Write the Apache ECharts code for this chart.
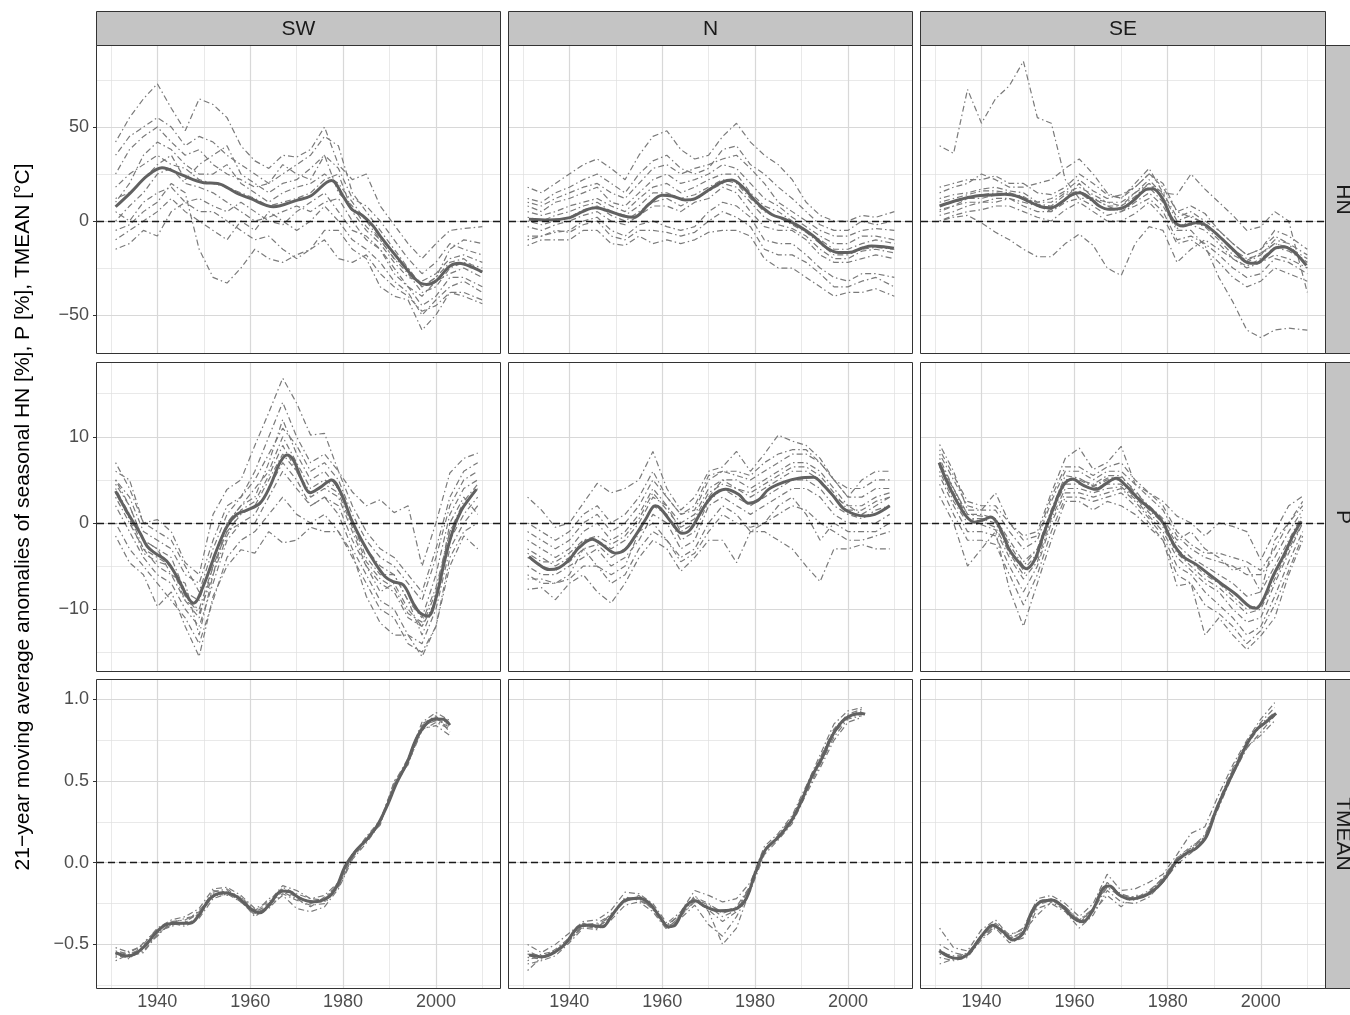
<!DOCTYPE html>
<html><head><meta charset="utf-8">
<script src="https://cdn.jsdelivr.net/npm/echarts@6/dist/echarts.min.js"></script>
<style>html,body{margin:0;padding:0;background:#fff}#c{width:1350px;height:1015px}</style>
</head><body><div id="c"></div>
<script>
// ---------------- DATA ----------------
const regions = ['SW', 'N', 'SE'];
const variables = ['HN', 'P', 'TMEAN'];
const yTitle = '21\u2212year moving average anomalies of seasonal HN [%], P [%], TMEAN [\u00B0C]';

const yearsHN = [1931,1934,1937,1940,1943,1946,1949,1952,1955,1958,1961,1964,1967,1970,1973,1976,1979,1982,1985,1988,1991,1994,1997,2000,2003,2006,2010];
const yearsP  = [1931,1934,1937,1940,1943,1946,1949,1952,1955,1958,1961,1964,1967,1970,1973,1976,1979,1982,1985,1988,1991,1994,1997,2000,2003,2006,2009];
const yearsT  = [1931,1934,1937,1940,1943,1946,1949,1952,1955,1958,1961,1964,1967,1970,1973,1976,1979,1982,1985,1988,1991,1994,1997,2000,2003];

const xTicks = [1940, 1960, 1980, 2000];
const xMinorTicks = [1930, 1950, 1970, 1990, 2010];
const yTicksHN = [-50, 0, 50];
const yMinorHN = [-25, 25, 75];
const yTicksP = [-10, 0, 10];
const yMinorP = [-15, -5, 5, 15];
const yTicksT = [-0.5, 0, 0.5, 1];
const yMinorT = [-0.75, -0.25, 0.25, 0.75];
const xLimits = [1927, 2013.8];
const yLimitsHN = [-70.2, 93.1];
const yLimitsP = [-17.17, 18.56];
const yLimitsT = [-0.767, 1.119];

// station series (dash-dot)
const stations_SW_HN = [
  [42,55,65,73,60,48,65,62,55,40,32,28,35,34,38,50,30,22,25,8,-2,-12,-20,-12,-5,-4,-3],
  [35,45,50,55,50,40,45,42,35,30,25,20,25,30,35,45,40,15,5,-5,-15,-25,-35,-30,-15,-10,-12],
  [10,20,35,42,38,30,25,25,30,20,15,10,15,18,20,25,20,10,0,-10,-20,-28,-38,-35,-25,-22,-25],
  [5,0,10,15,18,10,12,8,5,10,5,0,-2,5,10,15,5,-5,-8,-15,-28,-35,-45,-40,-30,-30,-35],
  [-5,-2,5,10,20,15,-15,-30,-33,-25,-15,-20,-22,-18,-15,-10,-20,-22,-18,-28,-35,-40,-48,-45,-38,-40,-44],
  [-15,-12,-5,-8,5,10,5,5,0,-5,-10,-8,-15,-20,-15,-5,-5,-15,-20,-35,-40,-42,-58,-50,-38,-38,-42],
  [18,25,30,35,30,28,22,20,18,15,12,8,10,12,15,22,25,5,-5,-12,-22,-30,-32,-28,-20,-18,-22],
  [0,8,15,25,28,20,18,15,10,5,0,2,5,8,5,10,12,0,-10,-15,-25,-35,-40,-32,-28,-25,-30],
  [25,38,45,50,42,35,38,30,25,22,18,20,30,25,22,35,28,12,8,0,-10,-20,-28,-22,-12,-15,-18],
  [-10,-5,0,5,12,5,0,-5,-10,0,-5,5,0,-5,0,8,0,-10,-15,-22,-32,-38,-50,-42,-35,-32,-38],
  [12,15,22,30,35,22,30,35,40,25,20,15,20,22,28,35,15,8,-3,-10,-20,-25,-35,-30,-22,-20,-28]
];
const stations_N_HN = [
  [18,15,20,25,30,33,28,22,35,45,48,38,33,35,45,52,42,35,30,22,10,3,0,0,3,2,5],
  [10,8,12,15,18,20,15,12,20,28,30,25,28,30,33,35,28,20,10,5,0,-5,-8,-8,-5,-4,-5],
  [5,3,5,8,10,12,8,5,12,18,20,15,18,22,25,25,15,8,5,0,-5,-10,-15,-15,-12,-10,-12],
  [-3,-5,-2,0,3,5,0,-2,3,8,8,5,10,12,18,15,5,-3,-5,-5,-10,-18,-22,-22,-20,-18,-20],
  [-8,-8,-6,-5,0,2,-5,-8,-2,0,-3,-5,-3,5,10,8,2,-10,-12,-12,-18,-25,-30,-32,-28,-28,-30],
  [-13,-10,-10,-10,-5,-5,-12,-13,-8,-12,-10,-12,-10,-6,-5,-5,-8,-20,-25,-25,-30,-35,-40,-38,-38,-36,-40],
  [2,0,3,5,8,10,5,3,8,15,15,12,14,18,22,20,12,5,2,-2,-6,-12,-18,-18,-15,-14,-15],
  [0,-2,0,2,6,8,3,0,5,10,12,8,12,16,20,18,10,2,-2,-4,-8,-15,-20,-20,-16,-15,-17],
  [8,5,10,12,15,18,10,8,15,22,25,20,22,25,30,28,20,12,8,2,-3,-8,-12,-12,-8,-8,-10],
  [-10,-8,-5,-6,-2,0,-8,-10,-5,-5,-6,-8,-6,0,5,2,-3,-15,-18,-18,-22,-28,-35,-35,-32,-30,-35],
  [12,10,15,18,22,25,20,15,25,32,35,28,25,28,38,40,30,25,18,12,5,-2,-5,-5,0,-2,0]
];
const stations_SE_HN = [
  [40,36,70,52,65,72,85,55,52,22,12,12,10,8,15,20,15,2,5,0,-5,-12,-18,-15,-8,-12,-18],
  [0,2,3,-1,-6,-10,-15,-19,-19,-12,-7,-13,-25,-29,-12,-3,-5,-22,-15,-10,-15,-20,-25,-22,-18,-20,-25],
  [15,18,20,25,22,18,18,20,22,28,33,25,15,12,20,28,15,14,25,17,10,3,-5,-3,5,0,-38],
  [5,8,10,10,12,12,8,5,5,10,12,8,3,5,8,12,5,-10,-8,-12,-18,-25,-30,-28,-20,-22,-28],
  [3,5,8,10,10,12,10,8,5,12,20,12,8,5,10,15,8,-5,-5,-13,-30,-43,-58,-62,-58,-57,-58],
  [12,14,15,17,18,16,15,10,10,15,18,14,10,10,15,22,14,0,3,-2,-8,-15,-20,-18,-10,-12,-25],
  [8,10,12,14,15,14,12,8,6,12,15,10,6,6,12,18,10,-2,-2,-5,-12,-20,-24,-20,-14,-16,-22],
  [10,12,14,16,16,15,13,9,8,14,16,12,8,8,13,20,12,-4,0,-3,-10,-18,-22,-18,-12,-14,-20],
  [18,20,22,22,24,20,20,15,14,18,25,20,14,12,18,25,18,5,8,4,-5,-12,-18,-15,-5,-8,-15],
  [0,3,5,6,8,8,5,2,0,6,10,5,0,0,4,10,2,-12,-10,-15,-22,-30,-35,-32,-25,-28,-32],
  [6,8,12,12,14,15,12,10,12,16,22,16,12,14,18,25,20,5,2,-1,-8,-16,-21,-17,-12,-14,-22]
];
const stations_SW_P = [
  [6,5,0,0.4,-1,-4.6,-6,1,3.9,5,9,12.8,16.8,13.9,10.2,10.4,6,3.6,2,2.7,1.2,2,-5,0,5.8,7.5,8.1],
  [5,3,-1,-2,-3,-6,-7,-2,2,3,5,8,11,9,6,7,5,1,-2,-4,-5,-7,-9,-4,2,5,6],
  [4,1,-3,-4,-5,-9,-10,-5,-1,1,2,5,8,6,3,4,3,-1,-5,-7,-8,-11,-12,-8,-1,2,4],
  [2,-1,-4,-6,-7,-10,-12,-7,-2,0,0,3,6,4,2,3,1,-3,-6,-9,-10,-13,-14,-10,-3,0,2],
  [-1.5,-4.6,-6,-9.7,-8,-12,-15.5,-8.5,-5,-3.1,-3.5,-1,-2.3,-2,-0.5,-1,-1,-3.5,-8.5,-11.6,-13,-13,-15.5,-12,-5,-1.5,-3],
  [5,2,-2,-3,-6,-7,-13,-6,0,2,4,6,10,7,4,5,4,0,-4,-6,-6,-9,-13,-9,0,3,1],
  [4.5,2,-2,-3,-4,-8,-9,-4,0,2,3,7,12,8,5,6,4,0,-3,-5,-6,-9,-11,-6,1,4,5],
  [3,0,-3,-5,-6,-9,-11,-5,-1,0,1,4,7,5,2,3,2,-2,-5,-8,-7,-10,-12,-9,-2,1,3],
  [7,4,0,-1,-2,-5,-8,-3,1,3,6,10,14,10,7,8,6,2,-1,-3,-4,-6,-8,-3,3,6,7],
  [0,-3,-5,-7,-9,-11,-14,-9,-4,-2,-1,1,3,1,0,1,-1,-4,-7,-10,-11,-14,-15,-12,-4,-1,0],
  [3.5,0.5,-3.5,-4.5,-5,-8.5,-10.5,-6,-1.5,1.5,2.5,5.5,9,6,3.5,4.5,3.5,-0.5,-4.5,-6.5,-7.5,-10.5,-11.5,-7.5,-1,2.5,4.5]
];
const stations_N_P = [
  [3,1.5,-0.5,0,2.3,4.6,3.5,4,5,8.3,4,1.5,3,6,6.5,8.3,6,8,10.2,9.5,9,7.5,5,3,5,6,6],
  [-1,-2,-3,-2,0,1,-1,0,2,5,3,1,1.5,5,6,5.5,5,6,7,8,8,7,5,3,3,4,4],
  [-3,-4,-5,-4,-2,-2,-3,-2,0,3,2,-1,0,3,5,4,3,4,5,6,6,5,3,2,1,2,3],
  [-5,-6,-6,-5,-4,-3,-5,-4,-2,1,0,-3,-2,2,3,2,1,2,3,4,4,3,1,0,0,0,1],
  [-7.7,-7.5,-8.9,-7,-6,-8,-9.3,-7,-4,-2,-3,-5.6,-4,-2,-2,-4.6,-1,-1,-2,-3,-5,-6.8,-3,-3,-2.5,-3,-3],
  [-6,-7,-7,-6,-3,-5,-6,-5,-1,0,-2,-4,-3,0,2,1,-1,0,2,3,1,-2,0,-1,-1,-1,0],
  [-2,-3,-4,-3,-1,0,-2,-1,1,4,2,0,1,4,5,5,4,5,6,7,7,6,4,2,2,3,3.5],
  [-4,-5,-5.5,-4.5,-3,-2.5,-4,-3,-1,2,1,-2,-1,2.5,4,3,2,3,4,5,5,4,2,1,0.5,1.5,2],
  [0,-1,-2,-1,1,2,0,1,3,6,3,1,2,5.5,6,6,5.5,7,8,8.5,8.5,7,5,4,4,5,5],
  [-6.5,-6.5,-7,-6.5,-5,-5,-7,-6,-3,-1,-2,-4.5,-3.5,-1,1,0,-0.5,0,1,2,1.5,0,-1,-2,-2,-1.5,-1],
  [-3.5,-4.5,-4.5,-3.5,-2,-1.5,-2.5,-1.5,0.5,3.5,1.5,-0.5,0.5,3.5,4.5,4,3.5,4.5,5.5,6.5,6.5,5.5,3.5,1.5,1.5,2.5,3]
];
const stations_SE_P = [
  [9.1,6,1.5,1.5,3.5,0,-1.5,-1,3.5,7.5,8.7,6.2,7,8.9,4.5,3.5,2.5,0.8,0,-1.5,0,-0.4,-1,-4.3,-1,2,3.1],
  [8,5,2,1.5,1.5,-1,-3,-2,2.5,6,6,5,6,6,4.5,3,1.5,-1.5,-3,-4,-4.5,-5,-6,-6,-4,-1,1.5],
  [7,3.5,0.5,0.2,-0.5,-3.5,-6,-4,1,4.5,4.5,4,4.5,4.5,3,1.2,-0.5,-3.5,-5,-6.5,-7.5,-9,-10.5,-10,-6.5,-3,0],
  [5.5,2,-1,-1,-1.5,-5,-8,-5,0,3.5,3.5,3,3.5,4,2.5,0.5,-1.5,-5,-6,-8,-9.5,-11,-13,-12,-8.5,-4.5,-1],
  [3.1,0,-5,-3,-1,-7.7,-12,-7,-2,2.5,2.5,1.5,2.5,2,1,-0.5,-2,-7.3,-7,-13,-11,-13,-14.7,-13.1,-11,-6,-2],
  [6.5,4,1,1,0.5,-2,-4.5,-3,1.5,5,5,4.5,5.5,5.5,3.5,2,0.5,-2,-1,-3,-4,-5.5,-5,-8,-2,0,2],
  [7.5,4,1,0.8,0.5,-2.5,-5,-3,1.5,5.5,5.2,4.3,5.2,5.3,3.8,1.8,0.3,-2.5,-4,-5,-6,-7,-8.5,-8,-5,-2,1],
  [6,2.5,0,-0.2,-0.8,-4,-6.5,-4.5,0.5,4,4,3.5,4,4.2,2.8,0.8,-1,-4,-5.5,-7,-8,-10,-11.5,-11,-7,-3.5,0],
  [8.5,5.5,2.5,2,2,0,-2,-1.5,3,6.5,6.5,5.5,6.5,7,5,3.5,2,-1,-2.5,-3.5,-3.5,-4,-4.5,-5.5,-3,0,2.5],
  [4.5,1,-2,-2,-2.5,-6,-9.5,-6,-1,3,3,2.5,3,3.5,2,0,-2,-6,-7,-9.5,-10.5,-12,-14,-12.5,-9.5,-5.5,-1.5],
  [7,4,0.5,0.5,0,-3,-5.5,-3.5,1,5,5,4.2,5,5,3.2,1.5,0,-3,-4.5,-6,-7,-8.5,-10,-9.5,-6,-2.5,0.5]
];
const stations_SW_T = [
  [-0.52,-0.55,-0.50,-0.40,-0.35,-0.33,-0.28,-0.16,-0.15,-0.20,-0.28,-0.24,-0.14,-0.17,-0.22,-0.20,-0.12,0.05,0.15,0.26,0.49,0.64,0.86,0.92,0.87],
  [-0.57,-0.58,-0.54,-0.44,-0.37,-0.39,-0.34,-0.22,-0.19,-0.24,-0.32,-0.28,-0.19,-0.23,-0.26,-0.25,-0.15,0.03,0.13,0.24,0.46,0.61,0.81,0.86,0.82],
  [-0.54,-0.56,-0.53,-0.42,-0.39,-0.36,-0.31,-0.19,-0.20,-0.21,-0.29,-0.25,-0.16,-0.20,-0.25,-0.22,-0.13,0.05,0.14,0.25,0.48,0.62,0.84,0.89,0.85],
  [-0.60,-0.56,-0.52,-0.45,-0.36,-0.38,-0.33,-0.20,-0.17,-0.23,-0.33,-0.27,-0.20,-0.28,-0.30,-0.27,-0.16,0.02,0.12,0.24,0.47,0.61,0.82,0.84,0.78],
  [-0.55,-0.59,-0.49,-0.41,-0.36,-0.35,-0.30,-0.18,-0.16,-0.22,-0.30,-0.26,-0.15,-0.19,-0.22,-0.23,-0.12,0.04,0.16,0.26,0.48,0.63,0.85,0.90,0.80],
  [-0.58,-0.54,-0.51,-0.43,-0.38,-0.37,-0.29,-0.21,-0.18,-0.21,-0.31,-0.22,-0.18,-0.22,-0.27,-0.21,-0.14,0.03,0.15,0.23,0.50,0.60,0.84,0.87,0.83],
  [-0.56,-0.57,-0.55,-0.44,-0.37,-0.34,-0.32,-0.17,-0.18,-0.24,-0.31,-0.27,-0.17,-0.21,-0.24,-0.24,-0.14,0.06,0.13,0.25,0.47,0.62,0.83,0.88,0.84]
];
const stations_N_T = [
  [-0.50,-0.55,-0.50,-0.43,-0.36,-0.35,-0.29,-0.18,-0.19,-0.25,-0.37,-0.30,-0.17,-0.20,-0.24,-0.22,-0.12,0.10,0.18,0.29,0.47,0.66,0.85,0.93,0.95],
  [-0.62,-0.60,-0.57,-0.49,-0.40,-0.41,-0.35,-0.26,-0.24,-0.30,-0.41,-0.34,-0.26,-0.38,-0.45,-0.33,-0.17,0.05,0.14,0.24,0.42,0.58,0.75,0.86,0.89],
  [-0.56,-0.57,-0.55,-0.47,-0.39,-0.38,-0.33,-0.22,-0.22,-0.27,-0.39,-0.31,-0.22,-0.26,-0.30,-0.27,-0.14,0.07,0.16,0.27,0.45,0.63,0.80,0.90,0.92],
  [-0.66,-0.58,-0.53,-0.46,-0.37,-0.40,-0.31,-0.24,-0.20,-0.29,-0.40,-0.33,-0.20,-0.30,-0.50,-0.40,-0.16,0.08,0.15,0.26,0.43,0.60,0.77,0.88,0.90],
  [-0.58,-0.59,-0.54,-0.48,-0.38,-0.39,-0.34,-0.21,-0.23,-0.28,-0.38,-0.32,-0.24,-0.27,-0.33,-0.29,-0.15,0.06,0.17,0.28,0.46,0.64,0.82,0.91,0.94],
  [-0.60,-0.56,-0.54,-0.46,-0.38,-0.37,-0.32,-0.22,-0.21,-0.27,-0.40,-0.33,-0.23,-0.29,-0.36,-0.30,-0.14,0.07,0.15,0.27,0.44,0.62,0.79,0.89,0.91],
  [-0.54,-0.58,-0.55,-0.47,-0.39,-0.40,-0.33,-0.23,-0.22,-0.28,-0.38,-0.32,-0.21,-0.25,-0.31,-0.28,-0.15,0.08,0.16,0.26,0.45,0.64,0.81,0.90,0.93]
];
const stations_SE_T = [
  [-0.40,-0.52,-0.54,-0.41,-0.35,-0.45,-0.40,-0.22,-0.20,-0.25,-0.33,-0.25,-0.07,-0.17,-0.16,-0.12,-0.07,0.05,0.18,0.22,0.42,0.60,0.75,0.88,0.98],
  [-0.58,-0.60,-0.58,-0.47,-0.40,-0.49,-0.46,-0.28,-0.25,-0.30,-0.40,-0.32,-0.17,-0.24,-0.25,-0.21,-0.12,-0.01,0.06,0.14,0.34,0.54,0.70,0.80,0.90],
  [-0.55,-0.57,-0.56,-0.44,-0.38,-0.46,-0.43,-0.25,-0.23,-0.27,-0.35,-0.28,-0.14,-0.19,-0.22,-0.18,-0.09,0.02,0.08,0.16,0.37,0.57,0.73,0.85,0.92],
  [-0.62,-0.59,-0.55,-0.46,-0.39,-0.47,-0.42,-0.32,-0.24,-0.29,-0.37,-0.30,-0.20,-0.27,-0.20,-0.20,-0.11,0.01,0.07,0.15,0.36,0.55,0.71,0.78,0.87],
  [-0.50,-0.55,-0.57,-0.45,-0.37,-0.44,-0.41,-0.24,-0.22,-0.27,-0.36,-0.29,-0.12,-0.20,-0.22,-0.17,-0.10,0.03,0.09,0.17,0.38,0.58,0.74,0.86,0.95],
  [-0.56,-0.58,-0.57,-0.45,-0.39,-0.46,-0.44,-0.26,-0.23,-0.28,-0.35,-0.29,-0.15,-0.21,-0.23,-0.18,-0.10,0.02,0.08,0.16,0.37,0.56,0.72,0.84,0.92],
  [-0.53,-0.59,-0.56,-0.44,-0.38,-0.47,-0.42,-0.25,-0.22,-0.27,-0.37,-0.28,-0.13,-0.20,-0.21,-0.19,-0.09,0.03,0.10,0.15,0.35,0.57,0.73,0.85,0.91]
];

// regional mean (solid, [year, value])
const mean_SW_HN = [[1931,7.6],[1934.2,15],[1937.8,24],[1941,28.4],[1945,24.8],[1950,20.4],[1953,20],[1957,15],[1960,12],[1965,7.6],[1970,11],[1973,13.3],[1977.5,21.6],[1980,13.3],[1982,6],[1984.3,2.7],[1986.5,-2.7],[1988,-8],[1992,-20.4],[1996,-31.9],[1998,-33.7],[2000,-31.9],[2003,-24],[2005,-22.5],[2008,-24.8],[2010,-27.1]];
const mean_N_HN = [[1931.3,0.9],[1935.6,0.5],[1940.1,1.8],[1943.1,5.3],[1945.6,7],[1948.5,5.3],[1951.7,2.7],[1953.9,2],[1957.1,8.9],[1960,13.7],[1962.1,13.3],[1965,11.2],[1967.1,11.9],[1970,16.5],[1972.9,20.7],[1975,21.8],[1977.5,17.7],[1980.4,9.8],[1983.6,3.5],[1986.5,0.9],[1989.4,-2.7],[1992.6,-8],[1995.4,-14.2],[1998,-16.8],[2000.1,-16.8],[2003.3,-14.2],[2005.1,-13.3],[2008,-13.8],[2009.9,-14.5]];
const mean_SE_HN = [[1931,8],[1935,11.2],[1938.8,13.3],[1942,13.8],[1945,14.2],[1948,12.9],[1950,10.6],[1952.8,7.6],[1954.9,7.1],[1957.1,9.8],[1959.2,13.7],[1961,15],[1963.2,12.4],[1965.3,8],[1967.5,6.2],[1970.4,7.1],[1972.5,10.6],[1975.4,16.8],[1976.8,17.2],[1979,11.5],[1981,0.9],[1983.3,-2.7],[1986,-0.9],[1988,-2],[1991,-8],[1994.4,-16],[1997.2,-22.2],[1999,-22.5],[2001.2,-18.6],[2003.3,-14.2],[2005.1,-13.8],[2007.3,-16.8],[2009.8,-23.6]];
const mean_SW_P = [[1931,3.7],[1934,0.8],[1936.3,-1.2],[1937.8,-2.7],[1939.5,-3.5],[1942,-4.4],[1944.6,-6.6],[1946.4,-8.5],[1947.8,-9.3],[1949.9,-7.3],[1952.8,-3.1],[1955,-0.4],[1957.1,1],[1959.3,1.5],[1962.1,2.3],[1964.3,4.3],[1966.4,7],[1967.9,7.9],[1969.3,7.3],[1971.1,5],[1972.9,3.5],[1975,4.1],[1977.5,5],[1979.7,3.3],[1981.8,0.4],[1984.3,-2.3],[1986.5,-4.3],[1989,-6.2],[1990.8,-6.8],[1993,-7.2],[1995.1,-9.3],[1996.5,-10.4],[1998.3,-10.8],[2000.1,-8.5],[2001.9,-4.3],[2003.7,-0.8],[2005.5,1.5],[2007.3,2.9],[2008.7,3.9]];
const mean_N_P = [[1931.3,-3.9],[1933.4,-4.8],[1935.6,-5.4],[1937.7,-5.2],[1939.9,-4.3],[1942,-2.9],[1944.9,-1.9],[1947,-2.5],[1950,-3.5],[1952,-3.1],[1954.2,-1.5],[1956.4,0.4],[1958.5,2],[1959.6,1.7],[1962.1,0],[1964.3,-1.2],[1966,-0.8],[1968.6,1.5],[1970.7,3.1],[1973.6,3.9],[1976.5,3.3],[1978.6,2.3],[1980.8,2.7],[1982.9,3.9],[1986.5,4.8],[1989.4,5.2],[1992.6,5.3],[1994.7,4.4],[1996.9,3.1],[1999,1.7],[2001.5,1],[2003.7,0.8],[2005.8,1],[2007.6,1.5],[2009,2]];
const mean_SE_P = [[1930.9,7],[1932.4,5],[1934.5,2.7],[1936.7,0.8],[1938.5,0.1],[1940.6,0.4],[1942,0.7],[1943.8,-0.4],[1946,-3.1],[1948.1,-4.6],[1949.6,-5.3],[1951.4,-4.3],[1953.2,-1.5],[1955.3,1.5],[1957.5,4.3],[1959.6,5.1],[1961.8,4.4],[1964.6,3.9],[1966.8,4.6],[1968.9,5.2],[1971.1,4.3],[1973.9,2.7],[1976.8,1.4],[1979,0],[1981.1,-2.3],[1983.3,-3.9],[1986.1,-4.8],[1989,-6],[1991.9,-7.2],[1994.7,-8.3],[1997.6,-9.7],[1999,-9.9],[2000.5,-8.9],[2002.6,-6.2],[2004.8,-3.9],[2006.9,-1.5],[2008.7,0.2]];
const mean_SW_T = [[1931,-0.551],[1933.5,-0.571],[1935.6,-0.551],[1937.8,-0.494],[1939.9,-0.422],[1942,-0.378],[1944.6,-0.371],[1947.1,-0.371],[1949.2,-0.31],[1951.4,-0.218],[1954.2,-0.184],[1957.1,-0.208],[1960,-0.28],[1962.1,-0.306],[1964.3,-0.249],[1966.8,-0.173],[1968.6,-0.178],[1970.7,-0.218],[1973.6,-0.239],[1976.5,-0.218],[1978.6,-0.147],[1980.4,-0.024],[1982.9,0.078],[1985.1,0.143],[1987.2,0.22],[1989.4,0.343],[1991.5,0.486],[1993.7,0.608],[1995.8,0.761],[1998,0.853],[1999.8,0.88],[2001.6,0.878],[2003,0.843]];
const mean_N_T = [[1931.3,-0.565],[1934.2,-0.576],[1937,-0.545],[1939.2,-0.494],[1942,-0.392],[1944.2,-0.382],[1947.1,-0.392],[1949.2,-0.32],[1952.1,-0.229],[1955,-0.218],[1957.1,-0.245],[1959.2,-0.32],[1961.4,-0.392],[1962.8,-0.382],[1965,-0.269],[1967.1,-0.233],[1969.3,-0.269],[1972.2,-0.294],[1975,-0.29],[1977.9,-0.229],[1980,-0.065],[1982.2,0.078],[1985.1,0.159],[1987.9,0.261],[1990.1,0.384],[1992.2,0.527],[1994.4,0.639],[1996.5,0.771],[1998.7,0.863],[2000.8,0.904],[2003,0.914],[2003.7,0.91]];
const mean_SE_T = [[1930.9,-0.539],[1933.1,-0.576],[1935.2,-0.586],[1937.4,-0.551],[1939.9,-0.453],[1942.4,-0.382],[1944.6,-0.422],[1946.7,-0.473],[1948.9,-0.433],[1951,-0.29],[1953.2,-0.233],[1955.3,-0.229],[1957.5,-0.269],[1959.6,-0.335],[1961.8,-0.361],[1963.9,-0.29],[1966.1,-0.157],[1967.5,-0.143],[1969.6,-0.198],[1971.8,-0.222],[1974.7,-0.208],[1977.5,-0.157],[1979.7,-0.086],[1981.8,0.006],[1984,0.057],[1986.1,0.088],[1988.3,0.159],[1990.4,0.322],[1992.6,0.465],[1994.7,0.588],[1996.9,0.72],[1999,0.812],[2001.2,0.863],[2003.3,0.914]];

// ---------------- LAYOUT / STYLE ----------------
const FONT = '"Liberation Sans", Arial, Helvetica, sans-serif';
const colLeft = [97, 509, 921], colW = [403, 403, 404];
const rowTop = [46, 363, 680], rowH = [307, 308, 308];

const rowsCfg = [
  {years: yearsHN, lim: yLimitsHN, ticks: yTicksHN, minor: yMinorHN, dec: 0,
   stations: [stations_SW_HN, stations_N_HN, stations_SE_HN], means: [mean_SW_HN, mean_N_HN, mean_SE_HN]},
  {years: yearsP, lim: yLimitsP, ticks: yTicksP, minor: yMinorP, dec: 0,
   stations: [stations_SW_P, stations_N_P, stations_SE_P], means: [mean_SW_P, mean_N_P, mean_SE_P]},
  {years: yearsT, lim: yLimitsT, ticks: yTicksT, minor: yMinorT, dec: 1,
   stations: [stations_SW_T, stations_N_T, stations_SE_T], means: [mean_SW_T, mean_N_T, mean_SE_T]}
];

const grids = [], xAxes = [], yAxes = [], series = [], graphics = [];
const fmtNum = (v, d) => (d ? Number(v).toFixed(d) : String(Math.round(v))).replace('-', '\u2212');

rowsCfg.forEach((row, r) => {
  regions.forEach((reg, c) => {
    const idx = r * 3 + c;
    grids.push({left: colLeft[c], top: rowTop[r], width: colW[c], height: rowH[r],
      show: true, borderWidth: 0, backgroundColor: '#ffffff', containLabel: false});
    xAxes.push({gridIndex: idx, type: 'value', min: xLimits[0], max: xLimits[1],
      splitLine: {show: false}, axisLine: {show: false},
      axisTick: {show: r === 2, customValues: xTicks, length: 4, lineStyle: {color: '#333333', width: 1}},
      axisLabel: {show: r === 2, customValues: xTicks, margin: 5, fontSize: 18, color: '#4D4D4D', fontFamily: FONT,
                  formatter: v => String(v)}});
    yAxes.push({gridIndex: idx, type: 'value', min: row.lim[0], max: row.lim[1],
      splitLine: {show: false}, axisLine: {show: false},
      axisTick: {show: c === 0, customValues: row.ticks, length: 4, lineStyle: {color: '#333333', width: 1}},
      axisLabel: {show: c === 0, customValues: row.ticks, margin: 8, fontSize: 18, color: '#4D4D4D', fontFamily: FONT,
                  formatter: v => fmtNum(v, row.dec)}});

    const common = {xAxisIndex: idx, yAxisIndex: idx, silent: true, animation: false};
    // minor grid lines
    series.push(Object.assign({type: 'lines', coordinateSystem: 'cartesian2d', z: 1,
      lineStyle: {color: '#E0E0E0', width: 0.7, opacity: 1},
      data: xMinorTicks.map(x => ({coords: [[x, row.lim[0]], [x, row.lim[1]]]}))
        .concat(row.minor.map(y => ({coords: [[xLimits[0], y], [xLimits[1], y]]})))}, common));
    // major grid lines
    series.push(Object.assign({type: 'lines', coordinateSystem: 'cartesian2d', z: 1,
      lineStyle: {color: '#D8D8D8', width: 1.2, opacity: 1},
      data: xTicks.map(x => ({coords: [[x, row.lim[0]], [x, row.lim[1]]]}))
        .concat(row.ticks.map(y => ({coords: [[xLimits[0], y], [xLimits[1], y]]})))}, common));
    // stations
    row.stations[c].forEach(vals => {
      series.push(Object.assign({type: 'line', z: 3, symbol: 'none', showSymbol: false,
        lineStyle: {color: '#7A7A7A', width: 1.2, type: [1.5, 3, 6, 3]},
        data: row.years.map((yr, k) => [yr, vals[k]])}, common));
    });
    // regional mean
    series.push(Object.assign({type: 'line', z: 4, symbol: 'none', showSymbol: false, smooth: 0.35,
      lineStyle: {color: '#616161', width: 3},
      data: row.means[c]}, common));
    // zero reference
    series.push(Object.assign({type: 'lines', coordinateSystem: 'cartesian2d', z: 5,
      lineStyle: {color: '#1A1A1A', width: 1.3, type: [7, 4], opacity: 1},
      data: [{coords: [[xLimits[0], 0], [xLimits[1], 0]]}]}, common));

    // crisp panel border (drawn on top)
    graphics.push({type: 'rect', z: 100, silent: true,
      shape: {x: colLeft[c] - 0.5, y: rowTop[r] - 0.5, width: colW[c] + 1, height: rowH[r] + 1},
      style: {fill: null, stroke: '#333333', lineWidth: 1}});
  });
});

// facet strips
regions.forEach((reg, c) => {
  graphics.push({type: 'rect', shape: {x: colLeft[c] - 0.5, y: 11.5, width: colW[c] + 1, height: 34},
    style: {fill: '#C4C4C4', stroke: '#333333', lineWidth: 1}, silent: true});
  graphics.push({type: 'text', x: colLeft[c] + colW[c] / 2, y: 29,
    style: {text: reg, align: 'center', verticalAlign: 'middle', textAlign: 'center', textVerticalAlign: 'middle',
            font: '21px ' + FONT, fill: '#1A1A1A'}, silent: true});
});
variables.forEach((v, r) => {
  graphics.push({type: 'rect', shape: {x: 1325.5, y: rowTop[r] - 0.5, width: 34, height: rowH[r] + 1},
    style: {fill: '#C4C4C4', stroke: '#333333', lineWidth: 1}, silent: true});
  graphics.push({type: 'text', x: 1343, y: rowTop[r] + rowH[r] / 2, rotation: -Math.PI / 2,
    style: {text: v, align: 'center', verticalAlign: 'middle', textAlign: 'center', textVerticalAlign: 'middle',
            font: '21px ' + FONT, fill: '#1A1A1A'}, silent: true});
});
graphics.push({type: 'text', x: 23, y: 517, rotation: Math.PI / 2,
  style: {text: yTitle, align: 'center', verticalAlign: 'middle', textAlign: 'center', textVerticalAlign: 'middle',
          font: '21px ' + FONT, fill: '#000000'}, silent: true});

const chart = echarts.init(document.getElementById('c'), null, {renderer: 'canvas'});
chart.setOption({
  backgroundColor: '#ffffff',
  animation: false,
  grid: grids, xAxis: xAxes, yAxis: yAxes, series: series, graphic: graphics
});
</script>
</body></html>
